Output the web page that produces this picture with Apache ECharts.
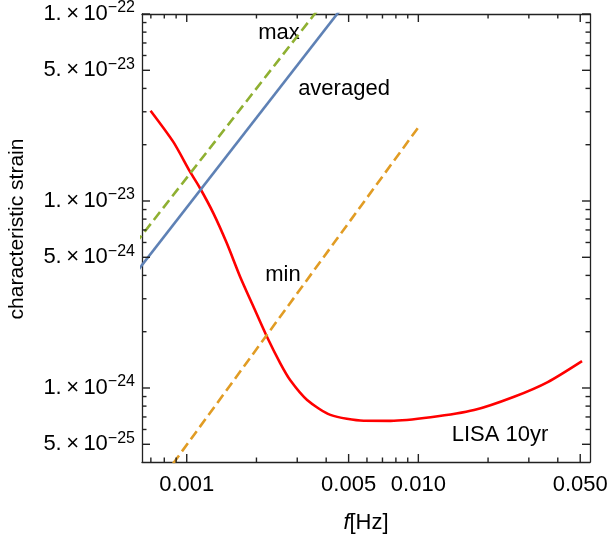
<!DOCTYPE html>
<html>
<head>
<meta charset="utf-8">
<script src="https://cdn.jsdelivr.net/npm/echarts@6/dist/echarts.min.js"></script>
<style>
  html, body { margin: 0; padding: 0; background: #fff; }
  #chart { width: 610px; height: 545px; }
</style>
</head>
<body>
<div id="chart"></div>
<script>
// LISA 10yr sensitivity curve
const lisaF = [6.98e-4, 8.75e-4, 1.033e-3, 1.142e-3, 1.304e-3, 1.49e-3, 1.70e-3, 1.942e-3, 2.22e-3, 2.535e-3,
  2.80e-3, 3.31e-3, 4.17e-3, 5.81e-3, 7.59e-3, 0.0113, 0.0174, 0.0259, 0.0362, 0.0509]
const lisaH = [3.04e-23, 2.07e-23, 1.436e-23, 1.17e-23, 8.59e-24, 5.94e-24, 3.94e-24, 2.72e-24, 1.88e-24, 1.355e-24,
  1.10e-24, 8.63e-25, 7.18e-25, 6.68e-25, 6.67e-25, 6.97e-25, 7.62e-25, 8.98e-25, 1.076e-24, 1.393e-24]

// signal lines (straight in log-log)
const avgF = [6e-4, 5e-3]
const avgH = [4.09e-24, 1.20e-22]
const maxF = [6e-4, 4e-3]
const maxH = [5.92e-24, 1.20e-22]
const minF = [8e-4, 0.0101]
const minH = [3.4e-25, 2.52e-23]

// ticks
const xMajor = [0.001, 0.005, 0.01, 0.05]
const xMinor = [0.0007, 0.0008, 0.0009, 0.002, 0.003, 0.004, 0.006, 0.007, 0.008, 0.009, 0.02, 0.03, 0.04]
const yMajor = [5e-25, 1e-24, 5e-24, 1e-23, 5e-23, 1e-22]
const yMinor = [6e-25, 7e-25, 8e-25, 9e-25, 2e-24, 3e-24, 4e-24, 6e-24, 7e-24, 8e-24, 9e-24,
  2e-23, 3e-23, 4e-23, 6e-23, 7e-23, 8e-23, 9e-23]

const xRange = [6.41e-4, 0.0551]
const yRange = [4.02e-25, 1e-22]

const lg = v => Math.log10(v)
const pairs = (fs, hs) => fs.map((f, i) => [lg(f), lg(hs[i])])

const FONT = '"Liberation Sans", Arial, sans-serif'
const FRAME = '#222'

const chart = echarts.init(document.getElementById('chart'))

const xLabel = v => (Math.pow(10, v)).toFixed(3)
const yLabel = v => {
  const e = Math.floor(v + 1e-9)
  const m = Math.round(Math.pow(10, v - e))
  return '{b|' + m + '.\u2009×\u200910}{s|\u2212' + (-e) + '}'
}

const frameLine = { show: true, onZero: false, lineStyle: { color: FRAME, width: 1.3 } }

// tick marks on both opposite frame sides, drawn through the axes' scales
function tickSeries(vals, dim, len) {
  return {
    type: 'custom',
    silent: true,
    clip: false,
    z: 5,
    data: vals.map(v => dim === 'x' ? [lg(v), lg(yRange[0])] : [lg(xRange[0]), lg(v)]),
    renderItem: (params, api) => {
      const cs = params.coordSys
      const p = api.coord([api.value(0), api.value(1)])
      const st = { stroke: FRAME, lineWidth: 1.4 }
      if (dim === 'x') {
        const x = p[0]
        const b = cs.y + cs.height
        const t = cs.y
        return {
          type: 'group',
          children: [
            { type: 'line', shape: { x1: x, y1: b, x2: x, y2: b - len }, style: st },
            { type: 'line', shape: { x1: x, y1: t, x2: x, y2: t + len }, style: st }
          ]
        }
      }
      const y = p[1]
      const l = cs.x
      const r = cs.x + cs.width
      return {
        type: 'group',
        children: [
          { type: 'line', shape: { x1: l, y1: y, x2: l + len, y2: y }, style: st },
          { type: 'line', shape: { x1: r, y1: y, x2: r - len, y2: y }, style: st }
        ]
      }
    }
  }
}

const option = {
  backgroundColor: '#fff',
  animation: false,
  grid: { left: 142, right: 20, top: 14, bottom: 83, containLabel: false, outerBoundsMode: 'none' },
  xAxis: [
    {
      type: 'value',
      position: 'bottom',
      min: lg(xRange[0]),
      max: lg(xRange[1]),
      splitLine: { show: false },
      axisLine: frameLine,
      axisTick: { show: false },
      axisLabel: {
        customValues: xMajor.map(lg),
        formatter: xLabel,
        margin: 12,
        color: '#000',
        fontSize: 22,
        fontFamily: FONT
      },
      name: '{i|f}{n|[Hz]}',
      nameLocation: 'middle',
      nameGap: 50,
      nameTextStyle: {
        rich: {
          i: { fontSize: 22, fontStyle: 'italic', fontFamily: FONT, color: '#000' },
          n: { fontSize: 22, fontFamily: FONT, color: '#000' }
        }
      }
    },
    {
      type: 'value',
      position: 'top',
      min: lg(xRange[0]),
      max: lg(xRange[1]),
      splitLine: { show: false },
      axisLine: frameLine,
      axisTick: { show: false },
      axisLabel: { show: false }
    }
  ],
  yAxis: [
    {
      type: 'value',
      position: 'left',
      min: lg(yRange[0]),
      max: lg(yRange[1]),
      splitLine: { show: false },
      axisLine: frameLine,
      axisTick: { show: false },
      axisLabel: {
        customValues: yMajor.map(lg),
        formatter: yLabel,
        margin: 7,
        rich: {
          b: { fontSize: 22, fontFamily: FONT, color: '#000', lineHeight: 28 },
          s: { fontSize: 16, fontFamily: FONT, color: '#000', lineHeight: 16, verticalAlign: 'top' }
        }
      },
      name: 'characteristic strain',
      nameLocation: 'middle',
      nameGap: 114,
      nameTextStyle: { fontSize: 21, fontFamily: FONT, color: '#000', padding: [0, 0, 0, 18] }
    },
    {
      type: 'value',
      position: 'right',
      min: lg(yRange[0]),
      max: lg(yRange[1]),
      splitLine: { show: false },
      axisLine: frameLine,
      axisTick: { show: false },
      axisLabel: { show: false }
    }
  ],
  series: [
    tickSeries(xMajor, 'x', 8),
    tickSeries(xMinor, 'x', 4.5),
    tickSeries(yMajor, 'y', 8),
    tickSeries(yMinor, 'y', 4.5),
    {
      name: 'LISA 10yr',
      type: 'line',
      data: pairs(lisaF, lisaH),
      smooth: 0.25,
      showSymbol: false,
      z: 3,
      lineStyle: { color: '#ff0000', width: 2.6 }
    },
    {
      name: 'averaged',
      type: 'line',
      data: pairs(avgF, avgH),
      showSymbol: false,
      z: 3,
      lineStyle: { color: '#5e81b5', width: 2.6 }
    },
    {
      name: 'max',
      type: 'line',
      data: pairs(maxF, maxH),
      showSymbol: false,
      z: 3,
      lineStyle: { color: '#8fb032', width: 2.6, type: [10, 5] }
    },
    {
      name: 'min',
      type: 'line',
      data: pairs(minF, minH),
      showSymbol: false,
      z: 3,
      lineStyle: { color: '#e19c24', width: 2.6, type: [10, 5] }
    }
  ],
  graphic: [
    { type: 'text', x: 279, y: 33, style: { text: 'max', fontSize: 22, fontFamily: FONT, fill: '#000', align: 'center', verticalAlign: 'middle' } },
    { type: 'text', x: 344, y: 89, style: { text: 'averaged', fontSize: 22, fontFamily: FONT, fill: '#000', align: 'center', verticalAlign: 'middle' } },
    { type: 'text', x: 283, y: 275, style: { text: 'min', fontSize: 22, fontFamily: FONT, fill: '#000', align: 'center', verticalAlign: 'middle' } },
    { type: 'text', x: 500, y: 435, style: { text: 'LISA 10yr', fontSize: 22, fontFamily: FONT, fill: '#000', align: 'center', verticalAlign: 'middle' } }
  ]
}

chart.setOption(option)
</script>
</body>
</html>
